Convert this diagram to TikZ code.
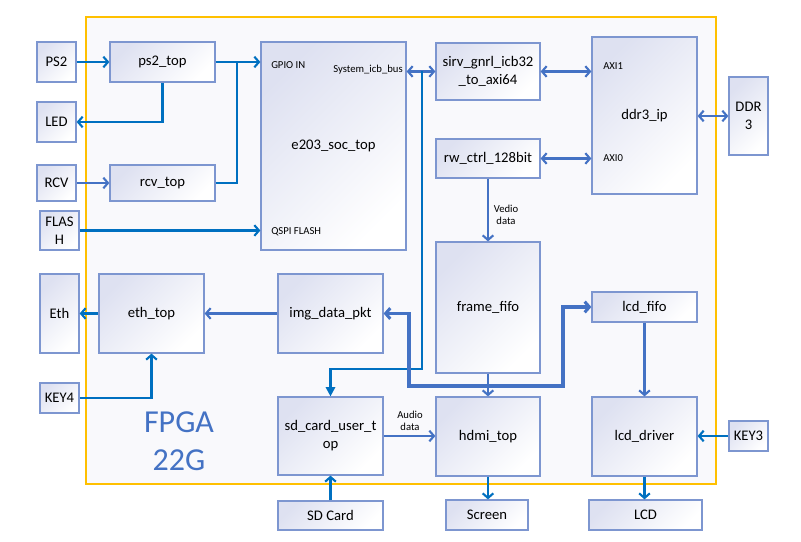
\documentclass[tikz,border=0pt]{standalone}
\usepackage{fontspec}
\setmainfont{Carlito}
\usetikzlibrary{arrows.meta,fit}
\definecolor{bord}{RGB}{125,150,208}
\definecolor{grad}{RGB}{222,225,241}
\definecolor{strong}{RGB}{0,112,192}
\definecolor{med}{RGB}{68,114,196}
\definecolor{orng}{RGB}{255,192,0}
\definecolor{bgc}{RGB}{249,249,252}
\begin{document}
\begin{tikzpicture}[x=0.75pt,y=-0.75pt,
 box/.style={draw=bord, line width=0.9pt, top color=grad, bottom color=white, shading angle=45, inner sep=0pt},
 bt/.style={font=\fontsize{11}{13.5}\selectfont, inner sep=0pt, align=center, text=black},
 lbl/.style={font=\fontsize{8}{9.5}\selectfont, inner sep=0pt, align=center},
 tipb/.tip={Straight Barb[length=3.5pt,width=8pt]},
 sa/.style={draw=strong, line width=1.6pt, -tipb},
 ma/.style={draw=med, line width=1.6pt, -tipb},
 mb/.style={draw=med, line width=1.6pt, tipb-tipb},
]
\useasboundingbox (0,0) rectangle (801,542);
\draw[orng, line width=1.8pt, fill=bgc] (86,17) rectangle (716,484);
\node[text=med, font=\fontsize{24}{28.5}\selectfont, align=center] (fpgalbl) at (179,441) {FPGA\\22G};

\node[box, fit={(37,42)(76,82)}, label={[bt]center:PS2}] (ps2) {};
\node[box, fit={(110,42)(215,82)}, label={[bt]center:ps2\_top}] (ps2top) {};
\node[box, fit={(37,102)(76,142)}, label={[bt]center:LED}] (led) {};
\node[box, fit={(37,165)(76,201)}, label={[bt]center:RCV}] (rcv) {};
\node[box, fit={(110,165)(215,201)}, label={[bt]center:rcv\_top}] (rcvtop) {};
\node[box, fit={(40,211)(79,250)}, label={[bt]center:FLAS\\H}] (flash) {};
\node[box, fit={(261,42)(406,250)}, label={[bt]center:e203\_soc\_top}] (soc) {};
\node[box, fit={(436,43)(540,100)}, label={[bt]center:sirv\_gnrl\_icb32\\\_to\_axi64}] (sirv) {};
\node[box, fit={(436,139)(540,178)}, label={[bt]center:rw\_ctrl\_128bit}] (rw) {};
\node[box, fit={(592,37)(697,194)}, label={[bt]center:ddr3\_ip}] (ddr) {};
\node[box, fit={(729,77)(768,155)}, label={[bt]center:DDR\\3}] (DDR) {};
\node[box, fit={(436,242)(540,373)}, label={[bt]center:frame\_fifo}] (frame) {};
\node[box, fit={(592,292)(697,322)}, label={[bt]center:lcd\_fifo}] (lcdfifo) {};
\node[box, fit={(40,274)(79,353)}, label={[bt]center:Eth}] (eth) {};
\node[box, fit={(99,274)(204,353)}, label={[bt]center:eth\_top}] (ethtop) {};
\node[box, fit={(278,274)(383,353)}, label={[bt]center:img\_data\_pkt}] (img) {};
\node[box, fit={(40,383)(79,413)}, label={[bt]center:KEY4}] (key4) {};
\node[box, fit={(278,397)(383,475)}, label={[bt]center:sd\_card\_user\_t\\op}] (sd) {};
\node[box, fit={(436,397)(540,476)}, label={[bt]center:hdmi\_top}] (hdmi) {};
\node[box, fit={(592,397)(697,476)}, label={[bt]center:lcd\_driver}] (lcddrv) {};
\node[box, fit={(729,421)(768,451)}, label={[bt]center:KEY3}] (key3) {};
\node[box, fit={(278,501)(383,530)}, label={[bt]center:SD Card}] (sdcard) {};
\node[box, fit={(446,500)(528,530)}, label={[bt]center:Screen}] (screen) {};
\node[box, fit={(589,500)(702,530)}, label={[bt]center:LCD}] (lcd) {};

\node[lbl, anchor=west] (gpio) at (271,65) {GPIO IN};
\node[lbl, anchor=east] (icb) at (403,70) {System\_icb\_bus};
\node[lbl, anchor=west] (qspi) at (271,232) {QSPI FLASH};
\node[lbl, anchor=west] (axi1) at (603,66) {AXI1};
\node[lbl, anchor=west] (axi0) at (603,158) {AXI0};
\node[lbl] (vedio) at (506,215) {Vedio\\data};
\node[lbl] (audio) at (410,421) {Audio\\data};

\coordinate (jn) at (237,62);
\draw[sa] (ps2) -- (ps2top);
\draw[sa] (ps2top.east) -- (soc.west |- ps2top.east);
\draw[sa] (ps2top.south) |- (led.east);
\draw[ma] (rcv) -- (rcvtop);
\draw[draw=strong, line width=1.6pt] (rcvtop.east) -| (jn);
\draw[sa] (flash.east) -- (soc.west |- flash.east);
\draw[mb] (soc.east |- sirv.west) -- (sirv.west);
\draw[mb] (sirv.east) -- (ddr.west |- sirv.east);
\draw[mb] (rw.east) -- (ddr.west |- rw.east);
\draw[mb] (ddr.east |- DDR.west) -- (DDR.west);
\coordinate (b1) at (422,71.5);
\coordinate (b2) at (422,369);
\draw[draw=strong, line width=1.6pt, -{Triangle[length=7pt,width=7pt]}] (b1) -- (b2) -| (sd.north);
\draw[ma] (rw) -- (frame);
\draw[ma] (frame) -- (hdmi);
\coordinate (t1) at (409,313.5);
\coordinate (t2) at (409,386);
\coordinate (t3) at (563,386);
\draw[draw=med, line width=2.3pt, tipb-tipb] (img.east) -- (t1) -- (t2) -- (t3) |- (lcdfifo.west);
\draw[ma] (img) -- (ethtop);
\draw[sa] (ethtop) -- (eth);
\draw[sa] (key4.east) -| (ethtop.south);
\draw[ma] (sd.east) -- (hdmi.west |- sd.east);
\draw[sa] (sdcard) -- (sd);
\draw[sa] (hdmi.south) -- (hdmi.south |- screen.north);
\draw[ma] (lcdfifo) -- (lcddrv);
\draw[sa] (key3.west) -- (lcddrv.east |- key3.west);
\draw[sa] (lcddrv.south) -- (lcddrv.south |- lcd.north);
\end{tikzpicture}
\end{document}
